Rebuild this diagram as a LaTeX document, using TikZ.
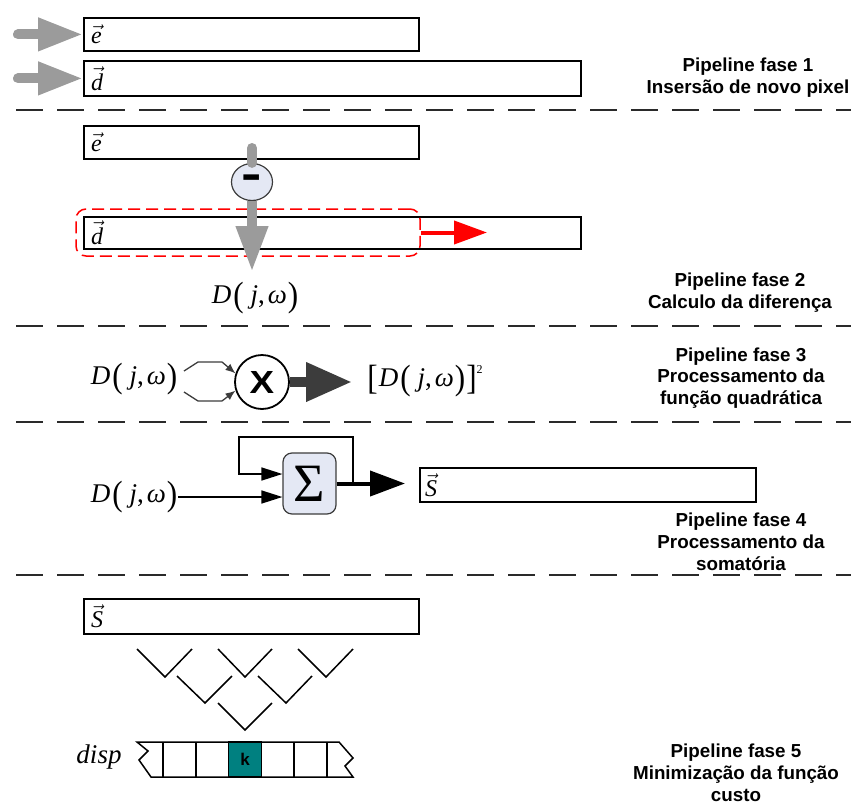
\documentclass[tikz,border=0pt]{standalone}
\usepackage{fontspec}
\usepackage{graphicx}
\setmainfont{Liberation Serif}
\setsansfont{Liberation Sans}
\usetikzlibrary{arrows.meta,calc,shapes.geometric}

\definecolor{arrgray}{HTML}{9B9B9B}
\definecolor{opfill}{HTML}{E4E8F4}
\definecolor{darkarr}{HTML}{3C3C3C}
\definecolor{sepgray}{HTML}{2A2A2A}
\definecolor{kteal}{HTML}{008080}

% D(j,omega) with tall parentheses
\newcommand\tallp[1]{\raisebox{-3pt}{\scalebox{1.15}[1.3]{#1}}}
\newcommand\Djw{\textit{D}\kern2pt\tallp{(}\kern7pt\textit{j},\kern3pt\textit{ω}\kern1pt\tallp{)}}
\newcommand\vlab[1]{$\vec{\textit{#1}}$}

\begin{document}
\begin{tikzpicture}[x=1pt,y=-1pt,
  vbox/.style={draw=black, line width=1.8pt, anchor=north west, inner sep=0pt, fill=white},
  vlabel/.style={anchor=west, inner sep=0pt, font=\fontsize{24}{24}\selectfont},
  mathlab/.style={inner sep=1pt, font=\fontsize{27}{27}\selectfont},
  phase/.style={align=center, font=\sffamily\bfseries\fontsize{18.8}{21.8}\selectfont},
  sep/.style={draw=sepgray, line width=1.6pt, dash pattern=on 27pt off 14pt},
  grayarrow/.style={draw=arrgray, line width=10pt, line cap=round, -{Triangle[length=45pt,width=31pt,fill=arrgray]}},
  grayline/.style={draw=arrgray, line width=10pt, line cap=round},
  redarrow/.style={draw=red, line width=4pt, -{Triangle[length=33pt,width=23pt]}},
  selbox/.style={draw=red, line width=1.5pt, dash pattern=on 12pt off 6pt, rounded corners=10pt, minimum width=344pt, minimum height=47pt, inner sep=0pt},
  minusop/.style={ellipse, draw=darkarr, line width=1.2pt, fill=opfill, minimum width=41pt, minimum height=37pt, inner sep=0pt, font=\sffamily\bfseries\fontsize{34}{34}\selectfont},
  mulop/.style={circle, draw=black, line width=1.8pt, fill=white, minimum size=54pt, inner sep=0pt, font=\sffamily\bfseries\fontsize{32}{32}\selectfont},
  fork/.style={draw=darkarr, line width=1.3pt, -{Latex[length=10pt,width=8pt]}},
  darkarrow/.style={draw=darkarr, line width=10pt, -{Triangle[length=46pt,width=37pt]}},
  thinarrow/.style={draw=black, line width=1.5pt, -{Triangle[length=21pt,width=13pt]}},
  blackarrow/.style={draw=black, line width=4pt, -{Triangle[length=35pt,width=25pt]}},
  sigbox/.style={draw=darkarr, line width=1.2pt, fill=opfill, rounded corners=9pt, minimum width=53pt, minimum height=61pt, inner sep=0pt, font=\fontsize{54}{54}\selectfont},
  vline/.style={draw=black, line width=1.5pt},
  cellline/.style={draw=black, line width=1.5pt},
  kcell/.style={draw=black, line width=1.5pt, fill=kteal, minimum width=33pt, minimum height=35pt, inner sep=0pt, font=\sffamily\bfseries\fontsize{17}{17}\selectfont}
]
\useasboundingbox (0,0) rectangle (851,808);

% ---------- phase separators ----------
\draw[sep] (16,110) -- (851,110);
\draw[sep] (16,326) -- (851,326);
\draw[sep] (16,422) -- (851,422);
\draw[sep] (16,575) -- (851,575);

% ---------- phase 1: new pixel insertion ----------
\node[vbox, minimum width=335pt, minimum height=33pt] (e1) at (83,17) {};
\node[vlabel] (e1l) at ([xshift=8pt]e1.west) {\vlab{e}};
\node[vbox, minimum width=497pt, minimum height=35pt] (d1) at (83,60) {};
\node[vlabel] (d1l) at ([xshift=8pt]d1.west) {\vlab{d}};
\coordinate (in1) at ([xshift=-65pt]e1.west);
\coordinate (in2) at ([xshift=-65pt]d1.west);
\draw[grayarrow] (in1) -- (e1.west);
\draw[grayarrow] (in2) -- (d1.west);
\node[phase] (p1) at (748,77.5) {Pipeline fase 1\\Insersão de novo pixel};

% ---------- phase 2: difference ----------
\node[vbox, minimum width=335pt, minimum height=33pt] (e2) at (83,125) {};
\node[vlabel] (e2l) at ([xshift=8pt]e2.west) {\vlab{e}};
\node[vbox, minimum width=497pt, minimum height=32pt] (d2) at (83,216) {};
\node[vlabel] (d2l) at ([xshift=8pt]d2.west) {\vlab{d}};
\node[selbox] (sel) at (248,232.5) {};
\coordinate (rtip) at (487,232.5);
\draw[redarrow] (sel.east) -- (rtip);
\coordinate (top2) at (252,148);
\coordinate (dtip) at (252,272);
\node[minusop] (minus) at (252,182) {\scalebox{1.8}[1.35]{-}};
\draw[grayline] (top2) -- (minus.north);
\draw[grayarrow, line cap=butt, -{Triangle[length=46pt,width=30pt,fill=arrgray]}] (minus.south) -- (dtip);
\node[mathlab] (D2) at (255,298) {\Djw};
\node[phase] (p2) at (740,292.5) {Pipeline fase 2\\Calculo da diferença};

% ---------- phase 3: square ----------
\node[mathlab] (D3) at (134,379) {\Djw};
\node[mulop] (mul) at (262,382) {\scalebox{1.15}[1]{X}};
\coordinate (f1) at (184,371);
\coordinate (f2) at (184,392);
\draw[fork] (f1) -- (198,362) -- (222,362) -- (mul.162);
\draw[fork] (f2) -- (198,401) -- (222,401) -- (mul.198);
\coordinate (sqtip) at (352,382);
\draw[darkarrow] (mul.east) -- (sqtip);
\node[mathlab] (sq) at (425,381) {\tallp{[}\kern1pt\Djw\kern1pt\tallp{]}\raisebox{13pt}{\fontsize{12}{12}\selectfont 2}};
\node[phase] (p3) at (741,378) {Pipeline fase 3\\Processamento da\\função quadrática};

% ---------- phase 4: summation ----------
\node[sigbox] (sig) at (309.5,483.5) {Σ};
\node[mathlab] (D4) at (134,497) {\Djw};
\draw[thinarrow] (D4.east) -- (D4.east -| sig.west);
\coordinate (stip) at (405,483.5);
\coordinate (fb) at (353,483.5);
\coordinate (fbend) at ($(sig.west)+(0,-9.5)$);
\draw[blackarrow] (sig.east) -- (stip);
\draw[thinarrow] (fb) |- (239,437) |- (fbend);
\node[vbox, minimum width=336pt, minimum height=34pt] (s4) at (419,467) {};
\node[vlabel] (s4l) at ([xshift=6pt]s4.west) {\vlab{S}};
\node[phase] (p4) at (741,541.5) {Pipeline fase 4\\Processamento da\\somatória};

% ---------- phase 5: cost minimisation ----------
\node[vbox, minimum width=335pt, minimum height=35pt] (s5) at (83,598) {};
\node[vlabel] (s5l) at ([xshift=8pt]s5.west) {\vlab{S}};
% comparison tree
\draw[vline] (137,649) -- (165,677) -- (192,649);
\draw[vline] (218,649) -- (245,677) -- (272,649);
\draw[vline] (298,649) -- (326,677) -- (353,649);
\draw[vline] (177,676) -- (205,703) -- (232,676);
\draw[vline] (258,676) -- (286,703) -- (312,676);
\draw[vline] (218,703) -- (245,730) -- (272,703);
% disparity array
\draw[cellline] (137,742) -- (339,742) -- (353,758) -- (345,766) -- (353,777)
  -- (151,777) -- (139,760) -- (148,751) -- cycle;
\foreach \cx in {163,196,294,327} \draw[cellline] (\cx,742) -- (\cx,777);
\node[kcell] (k) at (245,759.5) {k};
\node[mathlab] (disp) at (99,757) {\textit{disp}};
\node[phase] (p5) at (736,772.5) {Pipeline fase 5\\Minimização da função\\custo};
\end{tikzpicture}
\end{document}
